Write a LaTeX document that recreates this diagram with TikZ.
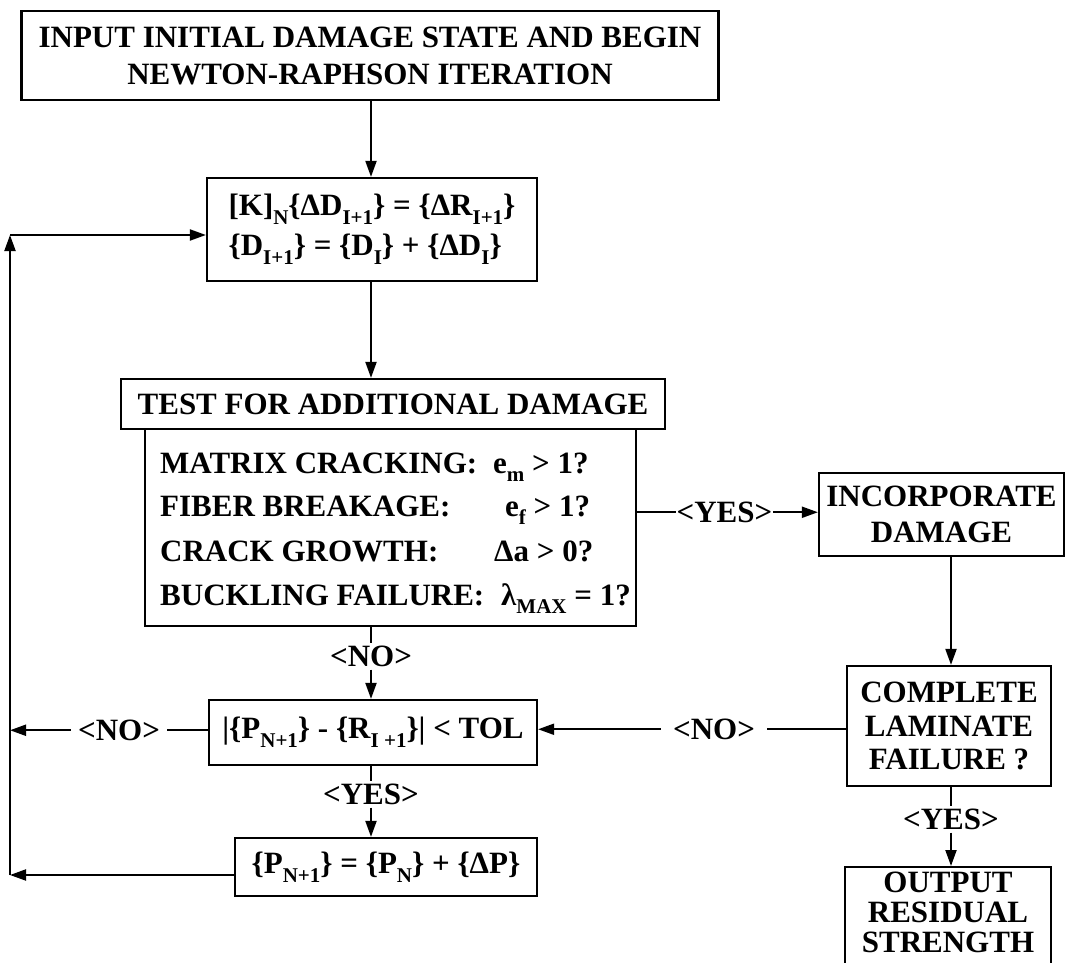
\documentclass[tikz,border=0pt]{standalone}
\usepackage{fontspec}
\setmainfont{Liberation Serif}
\usetikzlibrary{arrows.meta}
\newcommand\fsz{\fontsize{31}{37}\selectfont\bfseries}
\newcommand\sbs[1]{\raisebox{-0.28em}{\fontsize{21}{21}\selectfont #1}}
\begin{document}
\begin{tikzpicture}[x=1pt,y=-1pt,
  box/.style={draw, line width=2.2pt, inner sep=0pt, align=center, font=\fsz},
  txt/.style={inner sep=0pt, font=\fsz},
  lbl/.style={inner ysep=2pt, inner xsep=2pt, font=\fsz, text height=21pt, text depth=1.5pt},
  ln/.style={line width=2pt},
  arr/.style={line width=2pt, -{Triangle[length=16pt,width=11pt]}}]
\useasboundingbox (0,0) rectangle (1066,963);
\clip (0,0) rectangle (1066,963);

% boxes
\node[box, minimum width=697pt, minimum height=89pt] (b1) at (370,55.5)
  {INPUT INITIAL DAMAGE STATE AND BEGIN\\NEWTON-RAPHSON ITERATION};
\node[box, minimum width=330pt, minimum height=103pt, align=left,
  font=\fontsize{31}{40}\selectfont\bfseries] (b2) at (372,229.5)
  {[K]\sbs{N}\{ΔD\sbs{I+1}\} = \{ΔR\sbs{I+1}\}\\\{D\sbs{I+1}\} = \{D\sbs{I}\} + \{ΔD\sbs{I}\}};
\node[box, minimum width=544pt, minimum height=50pt] (hd) at (393,404)
  {TEST FOR ADDITIONAL DAMAGE};
\node[box, minimum width=491pt, minimum height=197pt] (body) at (390.5,527.5) {};
\node[txt, anchor=base west] (m1) at (160,473) {MATRIX CRACKING:};
\node[txt, anchor=base west] (m2) at (160,516) {FIBER BREAKAGE:};
\node[txt, anchor=base west] (m3) at (160,561) {CRACK GROWTH:};
\node[txt, anchor=base west] (m4) at (160,605) {BUCKLING FAILURE:};
\node[txt, anchor=base west] (e1) at (493,473) {e\sbs{m} > 1?};
\node[txt, anchor=base west] (e2) at (505,516) {e\sbs{f} > 1?};
\node[txt, anchor=base west] (e3) at (494,561) {Δa > 0?};
\node[txt, anchor=base west] (e4) at (501,605) {λ\sbs{MAX} = 1?};

\node[box, minimum width=328pt, minimum height=65pt] (b4) at (373,732.5)
  {|\{P\sbs{N+1}\} - \{R\sbs{I +1}\}| < TOL};
\node[box, minimum width=302pt, minimum height=58pt] (b5) at (386,867)
  {\{P\sbs{N+1}\} = \{P\sbs{N}\} + \{ΔP\}};
\node[box, minimum width=245pt, minimum height=83pt,
  font=\fontsize{31}{36}\selectfont\bfseries] (b6) at (941.5,514.5)
  {INCORPORATE\\DAMAGE};
\node[box, minimum width=204pt, minimum height=120pt,
  font=\fontsize{31}{33.5}\selectfont\bfseries] (b7) at (949,726)
  {COMPLETE\\LAMINATE\\FAILURE ?};
\node[box, minimum width=206pt, minimum height=148pt, anchor=north] (b8) at (948,866) {};
\node[txt, align=center, anchor=north, font=\fontsize{31}{30}\selectfont\bfseries] (b8t) at (948,872)
  {OUTPUT\\RESIDUAL\\STRENGTH};

% labels
\node[lbl, anchor=base] (no1) at (371,666) {<NO>};
\node[lbl, anchor=base] (yes2) at (371,804) {<YES>};
\node[lbl, anchor=base, inner xsep=7pt] (noL) at (119,740) {<NO>};
\node[lbl, anchor=base, inner xsep=0.5pt] (yesR) at (724.5,522) {<YES>};
\node[lbl, anchor=base, inner xsep=12pt] (noR) at (714,739) {<NO>};
\node[lbl, anchor=base] (yesB) at (951,829) {<YES>};

\coordinate (cT) at (10,235);
\coordinate (cB) at (10,875);

% connectors
\draw[arr] (b1.south -| no1) -- (b2.north -| no1);
\draw[arr] (b2.south -| no1) -- (hd.north -| no1);
\draw[ln] (body.south -| no1) -- (no1.north);
\draw[arr] (no1.south) -- (b4.north -| no1);
\draw[ln] (b4.south -| yes2) -- (yes2.north);
\draw[arr] (yes2.south) -- (b5.north -| yes2);
\draw[ln] (b4.west |- noL) -- (noL.east);
\draw[arr] (noL.west) -- (noL.west -| cB);
\draw[arr] (b5.west |- cB) -- (cB);
\draw[arr] (cB) -- (cT);
\draw[arr] (cT) -- (cT -| b2.west);
\draw[ln] (body.east |- yesR) -- (yesR.west);
\draw[arr] (yesR.east) -- (b6.west |- yesR);
\draw[arr] (b6.south -| yesB) -- (b7.north -| yesB);
\draw[ln] (b7.west |- noR) -- (noR.east);
\draw[arr] (noR.west) -- (b4.east |- noR);
\draw[ln] (b7.south -| yesB) -- (yesB.north);
\draw[arr] (yesB.south) -- (b8.north -| yesB);
\end{tikzpicture}
\end{document}
